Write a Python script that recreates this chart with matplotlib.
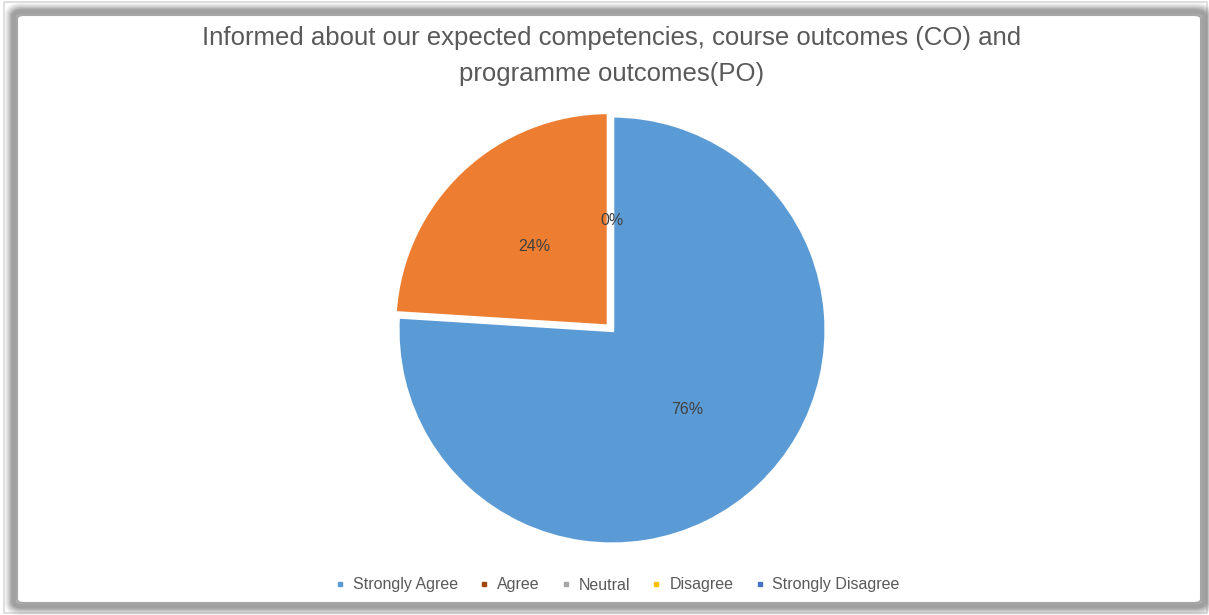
import matplotlib
matplotlib.use("Agg")
import matplotlib.pyplot as plt
from matplotlib.patches import FancyBboxPatch, Rectangle
from matplotlib.lines import Line2D

categories = ["Strongly Agree", "Agree", "Neutral", "Disagree", "Strongly Disagree"]
values = [76, 24, 0, 0, 0]
pie_colors = ["#5B9BD5", "#ED7D31", "#A5A5A5", "#FFC000", "#4472C4"]
legend_colors = ["#5B9BD5", "#9E480E", "#A5A5A5", "#FFC000", "#4472C4"]
title = "Informed about our expected competencies, course outcomes (CO) and\nprogramme outcomes(PO)"

W, H = 1209, 615
fig = plt.figure(figsize=(W / 100, H / 100), dpi=100)
fig.patch.set_facecolor("white")

font = ["Liberation Sans", "DejaVu Sans"]

# frame with soft shadow
outer = Rectangle((4 / W, 2 / H), 1203 / W, 611 / H, transform=fig.transFigure,
                  fill=False, edgecolor="#d9d9d9", linewidth=1.2, zorder=-5)
fig.add_artist(outer)
for i, a in enumerate([0.08, 0.12, 0.16, 0.2, 0.26, 0.32]):
    off = (6 - i) * 1.3
    r = FancyBboxPatch(((14 - off * 0.3) / W, (9 - off * 0.3) / H), (1190 + off * 0.6) / W,
                       (594 + off * 0.6) / H,
                       boxstyle="round,pad=0,rounding_size=0.008",
                       transform=fig.transFigure, fill=False,
                       edgecolor="#7f7f7f", linewidth=2 + off, alpha=a, zorder=-4)
    fig.add_artist(r)
inner = FancyBboxPatch((17 / W, 12 / H), 1184 / W, 588 / H,
                       boxstyle="round,pad=0,rounding_size=0.006",
                       transform=fig.transFigure, facecolor="white",
                       edgecolor="#a6a6a6", linewidth=1.5, zorder=-3)
fig.add_artist(inner)

# pie
cx, cy, R = 612, 330, 214.5
half = 225
ax = fig.add_axes([(cx - half) / W, (H - cy - half) / H, 2 * half / W, 2 * half / H])
ax.set_zorder(5)
ax.patch.set_alpha(0)
wedges, texts, autotexts = ax.pie(values, colors=pie_colors, startangle=90, counterclock=False,
                                  explode=[0, 0.022, 0, 0, 0], radius=1,
                                  autopct=lambda p: f"{p:.0f}%", pctdistance=0.51,
                                  wedgeprops=dict(edgecolor="white", linewidth=3),
                                  textprops=dict(color="#404040", fontsize=11.5, family=font))
lim = half / R
ax.set_xlim(-lim, lim)
ax.set_ylim(-lim, lim)
ax.set_aspect("equal")
ax.axis("off")
# the three zero slices share one label position; show it once
for t in autotexts[3:]:
    t.set_visible(False)

fig.text(612 / W, 1 - 56 / H, title, ha="center", va="center", fontsize=18.5,
         color="#595959", family=font, linespacing=1.6, zorder=6)

handles = [Line2D([0], [0], marker="s", linestyle="", markersize=3.2,
                  markerfacecolor=c, markeredgecolor=c) for c in legend_colors]
leg = fig.legend(handles, categories, loc="center", bbox_to_anchor=(617 / W, 1 - 585 / H),
                 ncol=5, frameon=False, handlelength=0.7, handletextpad=0.45,
                 columnspacing=1.3, prop=dict(family=font, size=11.5))
leg.set_zorder(6)
for t in leg.get_texts():
    t.set_color("#595959")

fig.savefig("out.png", dpi=100, facecolor="white")
